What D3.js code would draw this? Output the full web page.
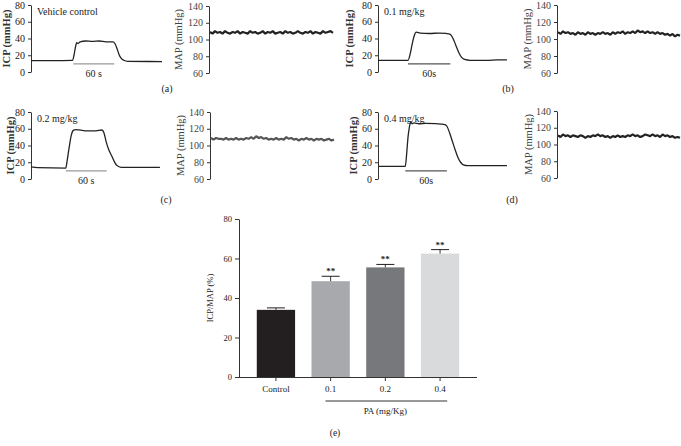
<!DOCTYPE html>
<html>
<head>
<meta charset="utf-8">
<script src="https://cdn.jsdelivr.net/npm/d3@7"></script>
<style>
  body { margin: 0; background: #fff; }
  svg text { font-family: "Liberation Serif", "DejaVu Serif", serif; fill: #222; }
  .axis path, .axis line { stroke: #333; }
</style>
</head>
<body>
<svg id="fig" width="681" height="446"></svg>
<script>
// ICP traces: [seconds, mmHg]
const icpA = [[0,13.6],[30,13.5],[61,14],[63,20],[65,29],[67,35],[69,34],[72,36],[80,37],[90,36.5],[100,37],[110,36],[120,36],[123,34],[126,28],[129,21],[132,16.5],[136,14],[142,12.8],[192,12.5]];
const icpB = [[0,14],[30,13.8],[44,14],[47,21],[50,33],[53,43],[56,47.5],[62,46.5],[75,46],[90,46.5],[100,46],[106,45],[110,40],[114,32],[118,24],[122,18],[127,15],[135,14],[160,14],[175,14.5],[189,14.5]];
const icpC = [[0,14.5],[10,13.5],[51,13],[53,22],[56,38],[59,52],[62,58],[66,59],[80,57.5],[95,57.5],[104,58.5],[107,55],[110,45],[114,35],[118,28],[122,21],[126,16],[132,14],[160,14],[189,14]];
const icpD = [[0,15],[40,15],[42,30],[44,50],[46,62],[48,68.5],[50,66],[53,67],[60,66],[70,66.5],[85,66],[98,65],[101,63],[105,55],[109,45],[113,35],[117,26],[121,20],[125,17],[132,16],[160,16],[189,16]];

// stimulation window (60 s bar), seconds
const stimA = [62, 122];
const stimB = [44, 106];
const stimC = [51, 111];
const stimD = [40, 101];

// MAP traces, mmHg, evenly spaced samples across the record
const mapA = [109,107,110,108,109,107,110,108,107,109,108,110,107,109,108,107,110,108,109,107,108,110,107,109,108,110,107,108,109,107,110,108,109,107,108,110,108,107,109,108,110,107,109,108,107,110,108,109,110,108];
const mapB = [108,106,109,107,108,106,107,105,108,106,107,105,108,106,107,105,107,106,108,106,107,105,108,106,108,107,109,106,108,107,109,107,110,108,109,107,109,107,108,106,108,106,107,105,106,104,106,103,105,104];
const mapC = [109,107,109,108,108,107,109,107,108,107,109,107,108,107,109,108,110,108,111,109,110,108,109,107,108,107,109,107,108,107,110,108,109,107,108,106,108,107,109,107,108,106,108,107,108,106,107,108,106,107];
const mapD = [111,109,112,110,111,109,111,110,109,111,110,108,110,109,111,110,112,110,111,109,110,108,110,109,111,109,110,109,111,110,112,110,111,109,110,112,111,110,112,110,111,109,112,110,111,109,110,108,109,108];

const doseLabels = ["Vehicle control", "0.1 mg/kg", "0.2 mg/kg", "0.4 mg/kg"];
const panelLetters = ["(a)", "(b)", "(c)", "(d)"];
const icpTicks = [0, 20, 40, 60, 80];
const mapTicks = [60, 80, 100, 120, 140];

// bar chart (e)
const groups = ["Control", "0.1", "0.2", "0.4"];
const means = [34, 48.5, 55.5, 62.5];
const sems = [1, 2.5, 1.5, 2];
const stars = ["", "**", "**", "**"];
const barTicks = [0, 20, 40, 60, 80];

const svg = d3.select("#fig");

const panels = [
  {icp: icpA, stim: stimA, map: mapA, ix: 31,  top: 5,   bot: 72,  mx: 209, mtop: 6,   mbot: 73,  mend: 333, lx: 167, ly: 92,  icpLab: 6,   mapLab: 178, sx: "60 s"},
  {icp: icpB, stim: stimB, map: mapB, ix: 378, top: 5,   bot: 72,  mx: 557, mtop: 5,   mbot: 73,  mend: 680, lx: 508, ly: 92,  icpLab: 349, mapLab: 527, sx: "60s"},
  {icp: icpC, stim: stimC, map: mapC, ix: 31,  top: 112, bot: 179, mx: 210, mtop: 112, mbot: 179, mend: 334, lx: 166, ly: 203, icpLab: 10,  mapLab: 180, sx: "60 s"},
  {icp: icpD, stim: stimD, map: mapD, ix: 378, top: 112, bot: 179, mx: 557, mtop: 111, mbot: 178, mend: 680, lx: 512, ly: 203, icpLab: 353, mapLab: 528, sx: "60s"}
];

panels.forEach(function(p, i) {
  let g = svg.append("g");

  // ICP axis
  let y = d3.scaleLinear().domain([0, 80]).range([p.bot, p.top]);
  let x = d3.scaleLinear().domain([0, 192]).range([p.ix, p.ix + 131]);

  let ya = g.append("g").attr("class", "axis")
    .attr("transform", "translate(" + p.ix + ",0)")
    .call(d3.axisLeft(y).tickValues(icpTicks).tickSize(3).tickPadding(3).tickSizeOuter(0));
  ya.selectAll("text").style("font-size", "10px");

  g.append("text")
    .attr("transform", "translate(" + p.icpLab + "," + ((p.top + p.bot) / 2) + ") rotate(-90)")
    .attr("text-anchor", "middle").attr("dy", "0.35em")
    .style("font-size", "10.5px").style("font-weight", "bold").style("fill", "#333")
    .text("ICP (mmHg)");

  g.append("text")
    .attr("x", p.ix + 6).attr("y", p.top + 6)
    .attr("dy", "0.35em")
    .style("font-size", "10px")
    .text(doseLabels[i]);

  let line = d3.line().x(d => x(d[0])).y(d => y(d[1])).curve(d3.curveMonotoneX);
  g.append("path").datum(p.icp)
    .attr("d", line)
    .attr("fill", "none").attr("stroke", "#222").attr("stroke-width", 1.3);

  g.append("line")
    .attr("x1", x(p.stim[0])).attr("x2", x(p.stim[1]))
    .attr("y1", y(12) + 2).attr("y2", y(12) + 2)
    .attr("stroke", i % 2 == 0 ? "#999" : "#555").attr("stroke-width", 1.2);

  g.append("text")
    .attr("x", (x(p.stim[0]) + x(p.stim[1])) / 2).attr("y", p.bot + 1)
    .attr("text-anchor", "middle").attr("dy", "0.35em")
    .style("font-size", "10px")
    .text(p.sx);

  // MAP axis
  let my = d3.scaleLinear().domain([60, 140]).range([p.mbot, p.mtop]);
  let mxs = d3.scaleLinear().domain([0, p.map.length - 1]).range([p.mx + 1, p.mend]);

  let ma = g.append("g").attr("class", "axis")
    .attr("transform", "translate(" + p.mx + ",0)")
    .call(d3.axisLeft(my).tickValues(mapTicks).tickSize(3).tickPadding(3).tickSizeOuter(0));
  ma.selectAll("text").style("font-size", "10px").style("fill", "#444");

  g.append("text")
    .attr("transform", "translate(" + p.mapLab + "," + ((p.mtop + p.mbot) / 2) + ") rotate(-90)")
    .attr("text-anchor", "middle").attr("dy", "0.35em")
    .style("font-size", "10.5px").style("fill", "#444")
    .text("MAP (mmHg)");

  let mline = d3.line().x((d, k) => mxs(k)).y(d => my(d));
  g.append("path").datum(p.map)
    .attr("d", mline)
    .attr("fill", "none").attr("stroke", i == 2 ? "#555" : "#222")
    .attr("stroke-width", 2.2).attr("stroke-linejoin", "bevel");

  g.append("text")
    .attr("x", p.lx).attr("y", p.ly)
    .attr("text-anchor", "middle")
    .style("font-size", "10px")
    .text(panelLetters[i]);
});

// panel (e): bar chart
let eb = svg.append("g");
let bx = d3.scaleBand().domain(groups).range([239, 477]).paddingInner(0.3).paddingOuter(0.325);
let by = d3.scaleLinear().domain([0, 80]).range([377, 219]);
let colors = ["#231f20", "#a7a9ac", "#77787b", "#d9dadb"];

let byAxis = eb.append("g").attr("class", "axis")
  .attr("transform", "translate(239,0)")
  .call(d3.axisLeft(by).tickValues(barTicks).tickSize(4).tickPadding(3).tickSizeOuter(0));
byAxis.selectAll("text").style("font-size", "8.5px");

let bxAxis = eb.append("g").attr("class", "axis")
  .attr("transform", "translate(0,377)")
  .call(d3.axisBottom(bx).tickSize(4).tickPadding(5).tickSizeOuter(0));
bxAxis.selectAll("text").style("font-size", "9px");
bxAxis.select(".domain").attr("d", "M239,0.5H477");

eb.selectAll("rect.bar").data(groups).enter().append("rect")
  .attr("class", "bar")
  .attr("x", d => bx(d))
  .attr("width", bx.bandwidth())
  .attr("y", (d, k) => by(means[k]))
  .attr("height", (d, k) => by(0) - by(means[k]))
  .attr("fill", (d, k) => colors[k]);

// error bars
groups.forEach(function(d, k) {
  let cx = bx(d) + bx.bandwidth() / 2;
  eb.append("line")
    .attr("x1", cx).attr("x2", cx)
    .attr("y1", by(means[k])).attr("y2", by(means[k] + sems[k]))
    .attr("stroke", "#333").attr("stroke-width", 1);
  eb.append("line")
    .attr("x1", cx - 9).attr("x2", cx + 9)
    .attr("y1", by(means[k] + sems[k])).attr("y2", by(means[k] + sems[k]))
    .attr("stroke", "#231f20").attr("stroke-width", 1);
  eb.append("text")
    .attr("x", cx).attr("y", by(means[k] + sems[k]) - 2)
    .attr("text-anchor", "middle")
    .style("font-size", "9px").style("font-weight", "bold")
    .text(stars[k]);
});

eb.append("text")
  .attr("transform", "translate(210," + by(40) + ") rotate(-90)")
  .attr("text-anchor", "middle").attr("dy", "0.35em")
  .style("font-size", "8.5px")
  .text("ICP/MAP (%)");

// dose bracket
eb.append("line")
  .attr("x1", bx("0.1") + 14).attr("x2", bx("0.4") + bx.bandwidth() - 12)
  .attr("y1", 401).attr("y2", 401)
  .attr("stroke", "#333").attr("stroke-width", 1);

eb.append("text")
  .attr("x", bx("0.2") + bx.bandwidth() / 2).attr("y", 411)
  .attr("text-anchor", "middle").attr("dy", "0.35em")
  .style("font-size", "9px")
  .text("PA (mg/Kg)");

eb.append("text")
  .attr("x", 335).attr("y", 436)
  .attr("text-anchor", "middle")
  .style("font-size", "9.5px")
  .text("(e)");
</script>
</body>
</html>
